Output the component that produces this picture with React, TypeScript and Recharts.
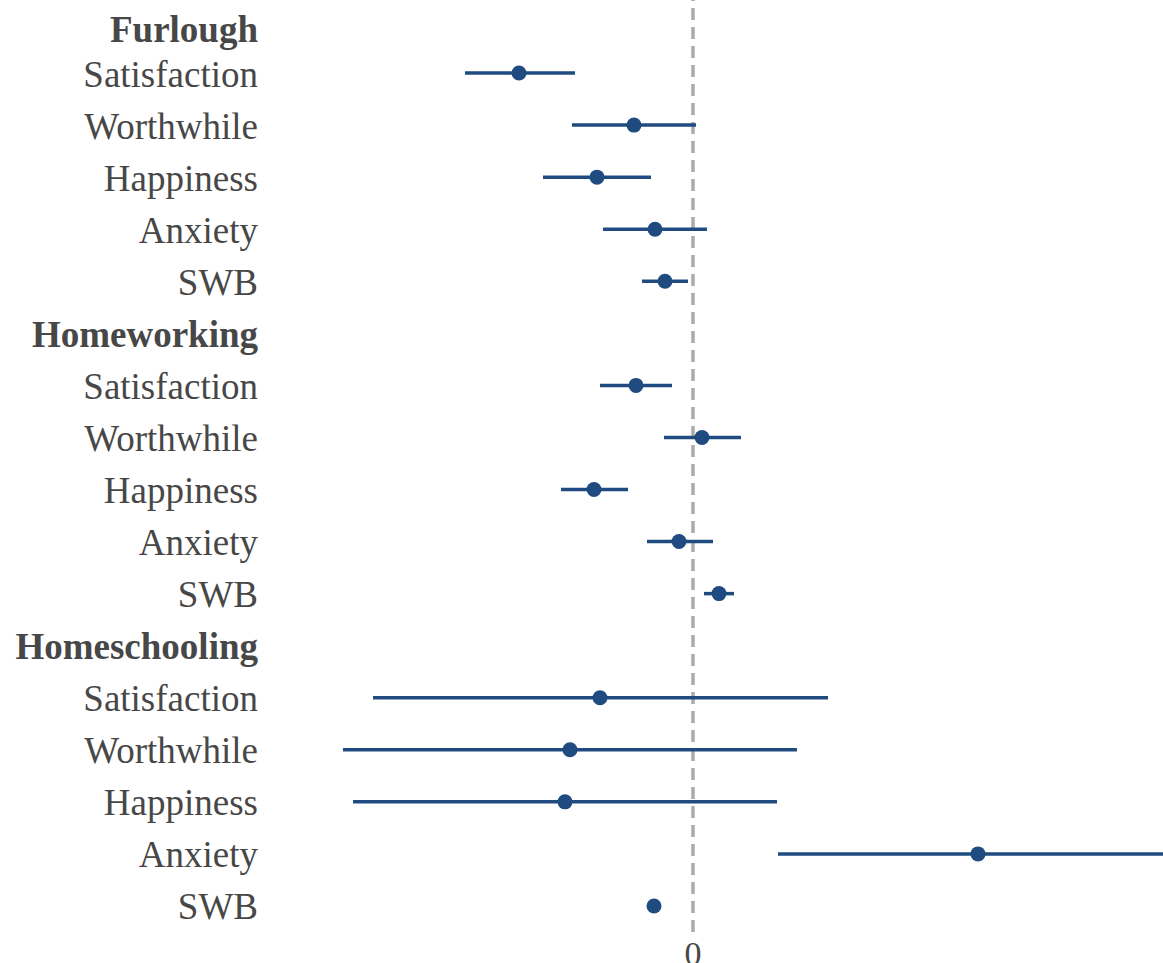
import React from 'react';
import { ComposedChart, Scatter, XAxis, YAxis, ErrorBar, ReferenceLine } from 'recharts';

const rowLabels = [
  'Furlough', 'Satisfaction', 'Worthwhile', 'Happiness', 'Anxiety', 'SWB',
  'Homeworking', 'Satisfaction', 'Worthwhile', 'Happiness', 'Anxiety', 'SWB',
  'Homeschooling', 'Satisfaction', 'Worthwhile', 'Happiness', 'Anxiety', 'SWB',
];
const headerRows = [0, 6, 12];
const itemRows = [1, 2, 3, 4, 5, 7, 8, 9, 10, 11, 13, 14, 15, 16, 17];
const estimates = [
  -0.348, -0.118, -0.192, -0.076, -0.056,
  -0.114, 0.018, -0.198, -0.028, 0.052,
  -0.186, -0.246, -0.256, 0.57, -0.078,
];
const lowerCI = [
  -0.456, -0.242, -0.3, -0.18, -0.102,
  -0.186, -0.058, -0.264, -0.092, 0.022,
  -0.64, -0.7, -0.68, 0.17, -0.086,
];
const upperCI = [
  -0.236, 0.006, -0.084, 0.028, -0.01,
  -0.042, 0.096, -0.13, 0.04, 0.082,
  0.27, 0.208, 0.168, 0.97, -0.07,
];
const xTicks = [0];

const data = itemRows.map((row, i) => ({
  row,
  est: estimates[i],
  err: [estimates[i] - lowerCI[i], upperCI[i] - estimates[i]],
}));

const BLUE = '#1f4b80';
const TEXT = '#474747';
const FONT = '"Liberation Serif", "Times New Roman", serif';

const YTick = (props: any) => {
  const { x, y, payload } = props;
  const idx = payload.value as number;
  const isHeader = headerRows.includes(idx);
  return (
    <text
      x={x}
      y={y + (idx === 0 ? 9 : 1)}
      textAnchor="end"
      dominantBaseline="central"
      fontFamily={FONT}
      fontSize={37}
      fontWeight={isHeader ? 'bold' : 'normal'}
      fill={TEXT}
    >
      {rowLabels[idx]}
    </text>
  );
};

const Dot = (props: any) => {
  const { cx, cy } = props;
  return <circle cx={cx} cy={cy} r={7.5} fill={BLUE} />;
};

export default function App() {
  return (
    <div style={{ position: 'absolute', left: 0, top: 0, width: 1163, height: 963, background: '#fff' }}>
      <ComposedChart width={1163} height={963} margin={{ top: 0, right: 0, bottom: 0, left: 0 }} data={data}>
        <XAxis
          type="number"
          dataKey="est"
          domain={[-0.85, 0.94]}
          allowDataOverflow
          ticks={xTicks}
          tickFormatter={(v: number) => String(v)}
          axisLine={false}
          tickLine={false}
          tickSize={0}
          tickMargin={9}
          height={31}
          tick={{ fontFamily: FONT, fontSize: 34, fill: TEXT }}
        />
        <YAxis
          type="number"
          dataKey="row"
          domain={[-0.403, 17.5]}
          reversed
          allowDataOverflow
          ticks={rowLabels.map((_, i) => i)}
          interval={0}
          axisLine={false}
          tickLine={false}
          tickSize={0}
          tickMargin={10}
          width={268}
          tick={<YTick />}
        />
        <ReferenceLine x={0} stroke="#ababab" strokeWidth={3.5} strokeDasharray="12 7" />
        <Scatter data={data} dataKey="est" shape={<Dot />} isAnimationActive={false}>
          <ErrorBar dataKey="err" direction="x" width={0} stroke={BLUE} strokeWidth={3.5} isAnimationActive={false} />
        </Scatter>
      </ComposedChart>
    </div>
  );
}
